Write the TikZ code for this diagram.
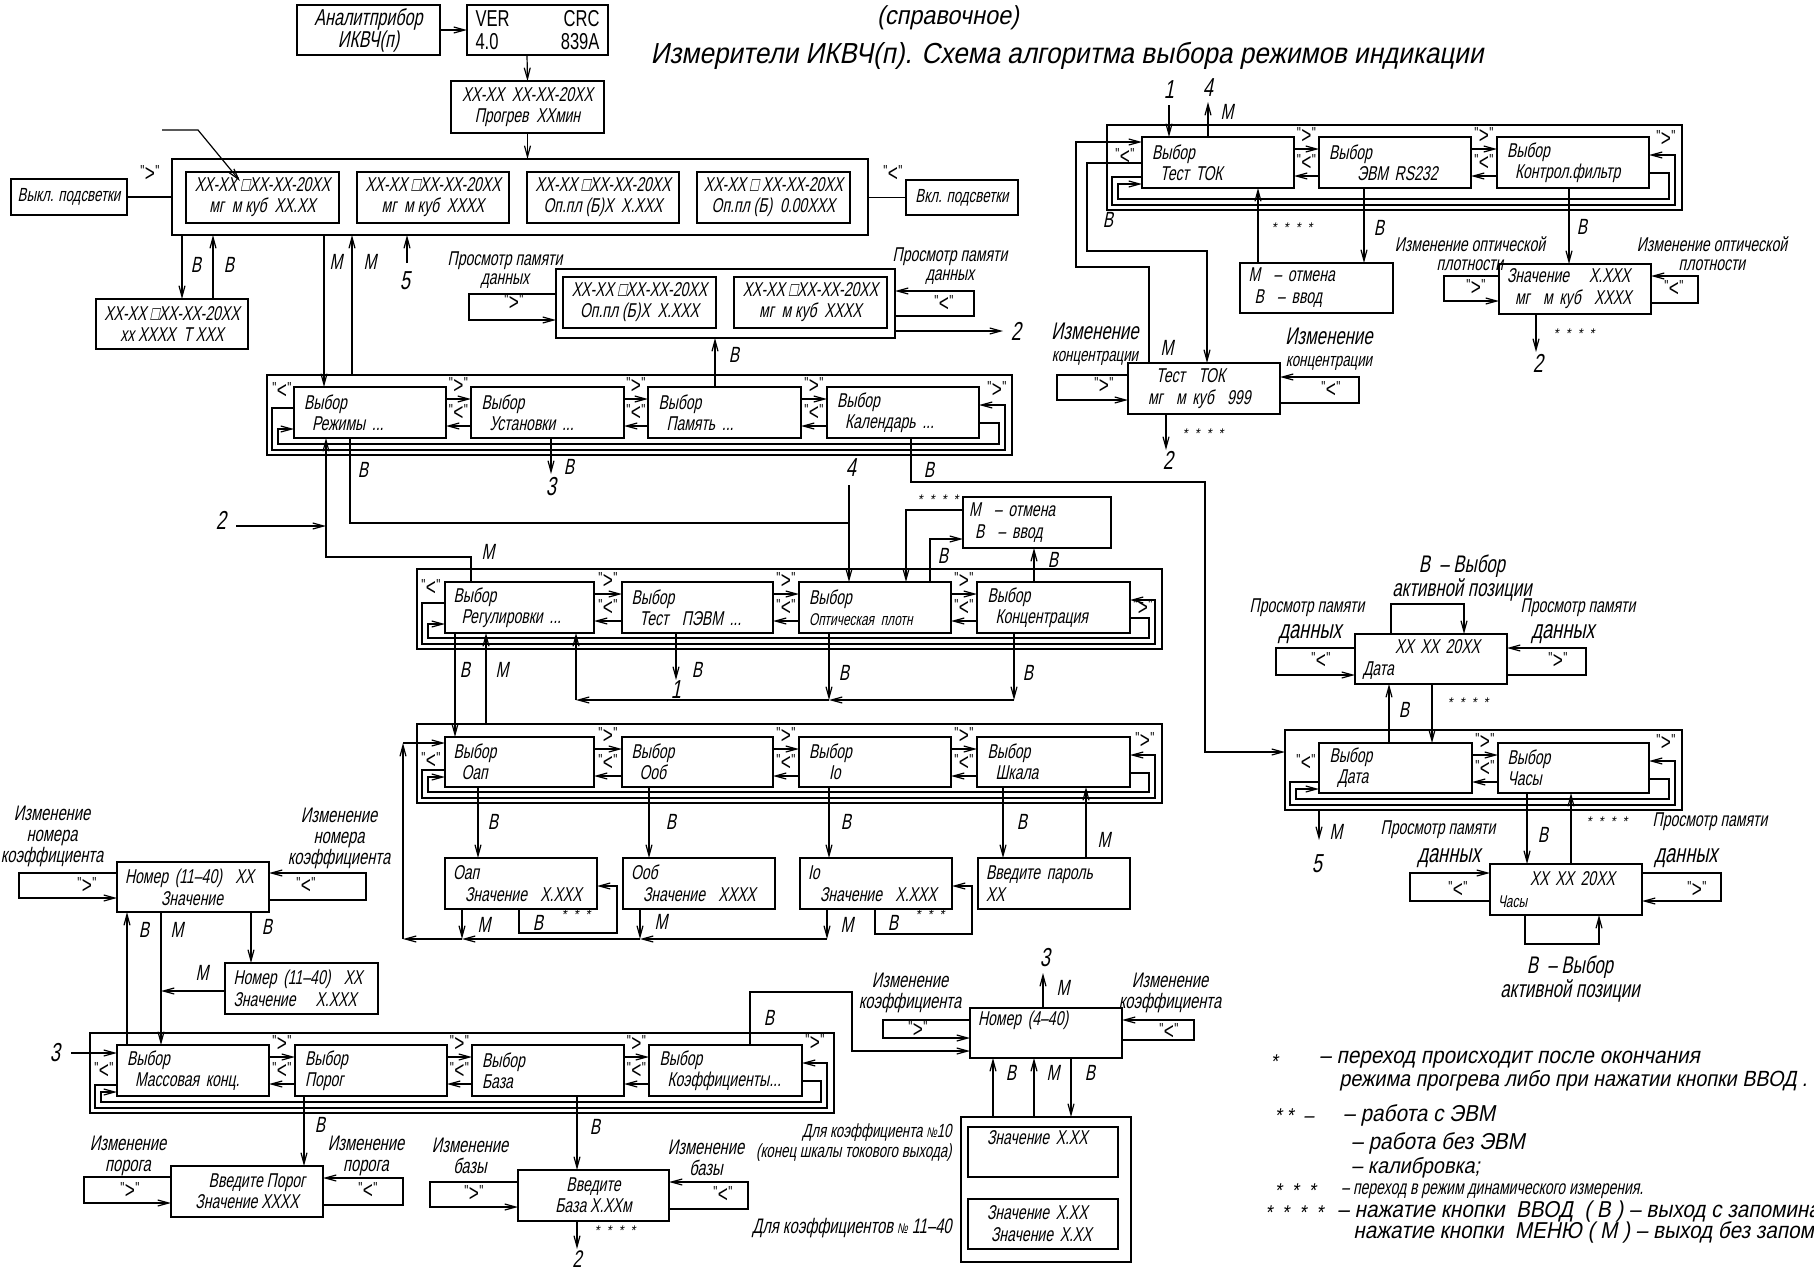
\documentclass[tikz,border=0pt]{standalone}
\usepackage{fontspec}
\setmainfont{Liberation Sans}[FakeSlant=0.2,FakeStretch=0.9]
\newfontfamily\nf{Liberation Sans}[FakeSlant=0.2,FakeStretch=0.7]
\newfontfamily\uf{Liberation Sans}[FakeStretch=0.72]
\usetikzlibrary{arrows.meta,calc}
\newcommand\fsz[2]{\fontsize{#1}{#2}\selectfont}
\newcommand\qmark[1]{{\uf\fsz{8}{8}"}\kern0.2pt\raisebox{-2.5pt}{\uf\fsz{12}{12}#1}\kern0.2pt{\uf\fsz{8}{8}"}}
\newcommand\mybox[7][]{\node[box,minimum width={(#5-#3)*0.5pt},minimum height={(#6-#4)*0.5pt},#1] (#2) at ({(#3+#5)/2},{(#4+#6)/2}) {#7};}
\newcommand\mylb[4][lt]{\node[#1] (#2) at (#3) {#4};}
\newcommand\pairar[3]{%
 \draw[ar] (#1.east |- 0,#3+12) -- (#2.west |- 0,#3+12);
 \draw[ar] (#2.west |- 0,#3+39) -- (#1.east |- 0,#3+39);
 \path (#1.north east) -- (#2.north west) node[midway,ql,yshift=1pt] (#1#2g) {\qmark{>}};
 \path (#1.east) -- (#2.west) node[midway,ql] (#1#2l) {\qmark{<}};}
\newcommand\rowloops[8]{%
 \draw[ar] (#2.east |- 0,#5+36) -| (#4-13,#6-11) -| (#3+11,#8) -- (#1.west |- 0,#8);
 \draw[ar] (#1.west |- 0,#7) -| (#3+5,#6-5) -| (#4-7,#5+18) -- (#2.east |- 0,#5+18);}
\tikzset{
 box/.style={draw,line width=0.75pt,inner sep=0pt,outer sep=0pt},
 ar/.style={line width=0.6pt,-{Straight Barb[length=5.5pt,width=3pt]}},
 ln/.style={line width=0.6pt},
 sel/.style={align=left,text width=66pt,font=\nf\fsz{10}{10.5}},
 dsp/.style={align=center,font=\nf\fsz{10}{10.5}},
 val/.style={align=left,text width=68pt,font=\nf\fsz{10}{11}},
 lt/.style={inner sep=0pt,font=\nf\fsz{11}{11}},
 num/.style={inner sep=0pt,font=\nf\fsz{13}{13}},
 ql/.style={inner sep=0pt},
 cpt/.style={inner sep=0pt,align=center,font=\nf\fsz{10}{9.5}},
 cpb/.style={inner sep=0pt,align=center,font=\nf\fsz{10.5}{10.5}},
 st/.style={inner sep=0pt,font=\fsz{7}{7}},
 lg/.style={inner sep=0pt,anchor=west,font=\fsz{11.5}{12}},
}
\begin{document}
\begin{tikzpicture}[x=0.5pt,y=-0.5pt]
\useasboundingbox (0,0) rectangle (1814,1270);
\fill[white] (0,0) rectangle (1814,1270);
% ================= all boxes
\mybox[dsp,font=\nf\fsz{11.5}{11}]{anal}{297}{5}{440}{55}{Аналитприбор\\ИКВЧ(п)}
\mybox[align=left,text width=62pt,font=\uf\fsz{11.5}{11.5}]{ver}{467}{5}{608}{55}{VER\hfill CRC\\4.0\hfill 839A}
\mybox[dsp]{prog}{451}{81}{604}{133}{XX-XX\ \ XX-XX-20XX\\Прогрев\ \ XXмин}
\mybox{big}{172}{159}{868}{235}{}
\mybox[dsp]{i1}{186}{172}{339}{223}{XX-XX □XX-XX-20XX\\мг\ \ м куб\ \ XX.XX}
\mybox[dsp]{i2}{357}{172}{509}{223}{XX-XX □XX-XX-20XX\\мг\ \ м куб\ \ XXXX}
\mybox[dsp]{i3}{527}{172}{679}{223}{XX-XX □XX-XX-20XX\\Оп.пл (Б)X\ \ X.XXX}
\mybox[dsp]{i4}{697}{172}{850}{223}{XX-XX □ XX-XX-20XX\\Оп.пл (Б)\ \ 0.00XXX}
\mybox[dsp,font=\nf\fsz{9.5}{10}]{vykl}{11}{179}{127}{215}{Выкл. подсветки}
\mybox[dsp,font=\nf\fsz{9.5}{10}]{vkl}{906}{180}{1018}{215}{Вкл. подсветки}
\mybox[dsp]{xx}{96}{299}{248}{349}{XX-XX □XX-XX-20XX\\xx XXXX\ \ T XXX}
\mybox{mem}{556}{269}{895}{338}{}
\mybox[dsp]{m1}{563}{277}{716}{328}{XX-XX □XX-XX-20XX\\Оп.пл (Б)X\ \ X.XXX}
\mybox[dsp]{m2}{734}{277}{887}{328}{XX-XX □XX-XX-20XX\\мг\ \ м куб\ \ XXXX}
% row 1
\mybox{r1}{267}{375}{1012}{455}{}
\mybox[sel]{ra}{294}{387}{446}{438}{Выбор\\\hspace*{4pt}Режимы ...}
\mybox[sel]{rb}{471}{387}{624}{438}{Выбор\\\hspace*{4pt}Установки ...}
\mybox[sel]{rc}{648}{387}{801}{438}{Выбор\\\hspace*{4pt}Память ...}
\mybox[sel]{rd}{827}{387}{979}{438}{Выбор\\\hspace*{4pt}Календарь ...}
% row 2
\mybox{r2}{417}{569}{1162}{649}{}
\mybox[sel]{sa}{445}{582}{594}{633}{Выбор\\\hspace*{4pt}Регулировки ...}
\mybox[sel]{sb}{622}{582}{773}{633}{Выбор\\\hspace*{4pt}Тест\ \ ПЭВМ ...}
\mybox[sel]{sc}{799}{582}{951}{633}{Выбор\\{\fsz{8.5}{10.5}Оптическая плотн}}
\mybox[sel]{sd}{977}{582}{1130}{633}{Выбор\\\hspace*{4pt}Концентрация}
\mybox[val]{otm1}{963}{497}{1111}{548}{М\ \ – отмена\\\hspace*{3pt}В\ \ – ввод}
% row 3
\mybox{r3}{417}{724}{1162}{803}{}
\mybox[sel]{ta}{445}{737}{594}{787}{Выбор\\\hspace*{4pt}Оап}
\mybox[sel]{tb}{622}{737}{773}{787}{Выбор\\\hspace*{4pt}Ооб}
\mybox[sel]{tc}{799}{737}{951}{787}{Выбор\\\hspace*{10pt}Io}
\mybox[sel]{td}{977}{737}{1130}{787}{Выбор\\\hspace*{4pt}Шкала}
\mybox[val]{va}{445}{858}{597}{909}{Оап\\\hspace*{6pt}Значение\ \ X.XXX}
\mybox[val]{vb}{623}{858}{775}{909}{Ооб\\\hspace*{6pt}Значение\ \ XXXX}
\mybox[val]{vc}{800}{858}{952}{909}{Io\\\hspace*{6pt}Значение\ \ X.XXX}
\mybox[val]{vd}{978}{858}{1130}{909}{Введите пароль\\XX}
% left
\mybox[val]{nom1}{117}{862}{269}{912}{Номер (11–40)\ \ XX\\\hspace*{18pt}Значение}
\mybox[val]{nom2}{225}{963}{378}{1014}{Номер (11–40)\ \ XX\\Значение\quad X.XXX}
% row 4
\mybox{r4}{90}{1033}{834}{1113}{}
\mybox[sel]{ua}{117}{1045}{269}{1096}{Выбор\\\hspace*{4pt}Массовая конц.}
\mybox[sel]{ub}{295}{1045}{447}{1096}{Выбор\\Порог}
\mybox[sel]{uc}{472}{1045}{624}{1096}{Выбор\\База}
\mybox[sel]{ud}{649}{1045}{802}{1096}{Выбор\\\hspace*{4pt}Коэффициенты...}
\mybox[dsp]{porog}{171}{1166}{323}{1217}{\hspace*{10pt}Введите Порог\\Значение XXXX}
\mybox[dsp]{baza}{518}{1170}{669}{1221}{Введите\\База X.XXм}
\mybox[val]{nom4}{970}{1008}{1122}{1058}{Номер (4–40)\\\strut}
\mybox{valbox}{961}{1117}{1131}{1262}{}
\mybox[val]{vz1}{968}{1127}{1118}{1177}{\hspace*{6pt}Значение X.XX\\\strut}
\mybox[val]{vz2}{968}{1199}{1118}{1249}{\hspace*{6pt}Значение X.XX\\\hspace*{8pt}Значение X.XX}
% row 5
\mybox{r5}{1107}{125}{1682}{210}{}
\mybox[sel]{fa}{1142}{137}{1294}{188}{Выбор\\\hspace*{4pt}Тест ТОК}
\mybox[sel]{fb}{1319}{137}{1471}{188}{Выбор\\\hspace*{14pt}ЭВМ RS232}
\mybox[sel]{fc}{1497}{137}{1649}{188}{Выбор\\\hspace*{4pt}Контрол.фильтр}
\mybox[val]{tok}{1128}{363}{1280}{414}{\hspace*{10pt}Тест\ \ ТОК\\\hspace*{6pt}мг\ \ м куб\ \ 999}
\mybox[val]{otm2}{1240}{263}{1393}{313}{М\ \ – отмена\\\hspace*{3pt}В\ \ – ввод}
\mybox[val]{znach}{1499}{264}{1651}{314}{Значение\quad X.XXX\\\hspace*{4pt}мг\ \ м куб\ \ XXXX}
% calendar
\mybox{r6}{1285}{730}{1682}{810}{}
\mybox[sel]{ga}{1319}{743}{1472}{793}{Выбор\\\hspace*{4pt}Дата}
\mybox[sel]{gb}{1498}{743}{1649}{793}{Выбор\\Часы}
\mybox[val]{data}{1355}{634}{1507}{684}{\hspace*{16pt}XX XX 20XX\\Дата}
\mybox[val]{chasy}{1490}{864}{1642}{915}{\hspace*{16pt}XX XX 20XX\\{\fsz{8.5}{11}Часы}}
% ================= title
\mylb[font=\fsz{13}{13},inner sep=0pt]{t1}{948,18}{(справочное)}
\mylb[font=\fsz{14.5}{15},inner sep=0pt]{t2}{1067,56}{Измерители ИКВЧ(п). Схема алгоритма выбора режимов индикации}
% ================= top connectors
\draw[ar] (anal.east) -- (ver.west);
\draw[ar] (527,0 |- ver.south) -- (prog.north);
\draw[ar] (prog.south) -- (prog.south |- big.north);
\coordinate (ptr) at (162,130); \coordinate (sq) at (240,181);
\draw[ar] (ptr) -- (198,130) -- (sq);
\draw[ln] (vykl.east) -- (vykl.east -| big.west);
\draw[ln] (vkl.west -| big.east) -- (vkl.west);
\mylb[ql]{q1}{150,173}{\qmark{>}}
\mylb[ql]{q2}{893,173}{\qmark{<}}
\draw[ar] (182,0 |- big.south) -- (182,0 |- xx.north);
\draw[ar] (213,0 |- xx.north) -- (213,0 |- big.south);
\mylb{l1}{196,265}{В} \mylb{l2}{229,265}{В}
\draw[ar] (324,0 |- big.south) -- (324,0 |- ra.north);
\draw[ar] (352,0 |- r1.north) -- (352,0 |- big.south);
\mylb{l3}{336,262}{М} \mylb{l4}{370,262}{М}
\coordinate (c5) at (407,263);
\draw[ar] (c5) -- (c5 |- big.south);
\mylb[num]{n5}{405,281}{5}
\draw[ar] (mem.west |- 0,294) -- (469,294) -- (469,320) -- (mem.west |- 0,320);
\draw[ar] (mem.east |- 0,316) -- (974,316) -- (974,291) -- (mem.east |- 0,291);
\mylb[ql]{q3}{514,302}{\qmark{>}}
\mylb[ql]{q4}{944,303}{\qmark{<}}
\mylb[cpt]{p1}{505,270}{Просмотр памяти\\данных}
\mylb[cpt]{p2}{950,266}{Просмотр памяти\\данных}
\coordinate (c2a) at (1003,331);
\draw[ar] (mem.east |- c2a) -- (c2a);
\mylb[num]{n2a}{1016,331}{2}
% ================= row 1 connectors
\pairar{ra}{rb}{387}\pairar{rb}{rc}{387}\pairar{rc}{rd}{387}
\rowloops{ra}{rd}{267}{1012}{387}{455}{408}{429}
\mylb[ql]{q5}{282,390}{\qmark{<}}
\mylb[ql]{q6}{997,389}{\qmark{>}}
\draw[ar] (715,0 |- rc.north) -- (715,0 |- mem.south);
\mylb{l5}{734,355}{В}
\coordinate (c2b) at (236,526);
\draw[ar] (c2b) -- (326,526);
\mylb[num]{n2b}{221,520}{2}
\draw[ar] (471,0 |- sa.north) -- (471,557) -- (326,557) -- (326,0 |- ra.south);
\mylb{l6}{488,552}{М}
\draw[ar] (350,0 |- ra.south) -- (350,523) -- (849,523) -- (849,0 |- sc.north);
\mylb{l7}{363,470}{В}
\coordinate (c4) at (849,485);
\draw[ln] (c4) -- (849,523);
\mylb[num]{n4}{851,468}{4}
\draw[ar] (551,0 |- rb.south) -- (551,474);
\mylb[num]{n3}{551,487}{3}
\mylb{l8}{569,467}{В}
\draw[ar] (911,0 |- rd.south) -- (911,482) -- (1205,482) -- (1205,752) -- (r6.west |- 0,752);
\mylb{l9}{929,470}{В}
% ================= row 2 connectors
\pairar{sa}{sb}{582}\pairar{sb}{sc}{582}\pairar{sc}{sd}{582}
\rowloops{sa}{sd}{417}{1162}{582}{649}{603}{624}
\mylb[ql]{q7}{431,587}{\qmark{<}}
\mylb[ql]{q8}{1143,607}{\qmark{>}}
\draw[ar] (otm1.west |- 0,510) -- (906,510) -- (906,0 |- sc.north);
\mylb[st]{s1}{938,500}{*\ \ *\ \ *\ \ *}
\draw[ar] (930,0 |- sc.north) -- (930,539) -- (otm1.west |- 0,539);
\mylb{l10}{943,556}{В}
\draw[ar] (1034,0 |- sd.north) -- (1034,0 |- otm1.south);
\mylb{l11}{1053,560}{В}
\draw[ar] (455,0 |- sa.south) -- (455,0 |- ta.north);
\draw[ar] (486,0 |- r3.north) -- (486,0 |- sa.south);
\mylb{l12}{465,670}{В} \mylb{l13}{502,670}{М}
\draw[ar] (676,0 |- sb.south) -- (676,680);
\mylb[num]{n1}{676,690}{1}
\mylb{l14}{697,670}{В}
\draw[ar] (829,0 |- sc.south) -- (829,700);
\draw[ar] (1014,0 |- sd.south) -- (1014,700);
\draw[ar] (1014,700) -- (829,700);
\draw[ar] (829,700) -- (576,700);
\draw[ar] (576,700) -- (576,0 |- sa.south);
\mylb{l15}{844,673}{В} \mylb{l16}{1028,673}{В}
% ================= row 3 connectors
\pairar{ta}{tb}{737}\pairar{tb}{tc}{737}\pairar{tc}{td}{737}
\rowloops{ta}{td}{417}{1162}{737}{803}{770}{777}
\mylb[ql]{q9}{431,760}{\qmark{<}}
\mylb[ql]{q10}{1145,740}{\qmark{>}}
\draw[ar] (478,0 |- ta.south) -- (478,0 |- va.north);
\draw[ar] (649,0 |- tb.south) -- (649,0 |- vb.north);
\draw[ar] (829,0 |- tc.south) -- (829,0 |- vc.north);
\draw[ar] (1003,0 |- td.south) -- (1003,0 |- vd.north);
\mylb{l17}{493,822}{В} \mylb{l18}{671,822}{В} \mylb{l19}{846,822}{В} \mylb{l20}{1022,822}{В}
\draw[ar] (1086,0 |- vd.north) -- (1086,0 |- td.south);
\mylb{l21}{1104,840}{М}
\draw[ar] (827,0 |- vc.south) -- (827,939);
\draw[ar] (827,939) -- (640,939);
\draw[ar] (640,0 |- vb.south) -- (640,939);
\draw[ar] (640,939) -- (462,939);
\draw[ar] (462,0 |- va.south) -- (462,939);
\draw[ar] (462,939) -- (403,939);
\draw[ar] (403,939) -- (403,743);
\draw[ar] (403,743) -- (ta.west |- 0,743);
\mylb{l22}{484,925}{М} \mylb{l23}{661,922}{М} \mylb{l24}{847,925}{М}
\draw[ar] (519,0 |- va.south) -- (519,933) -- (617,933) -- (617,886) -- (va.east |- 0,886);
\draw[ar] (875,0 |- vc.south) -- (875,934) -- (972,934) -- (972,886) -- (vc.east |- 0,886);
\mylb{l25}{538,923}{В} \mylb[st]{s2}{576,915}{*\ \ *\ \ *}
\mylb{l26}{893,923}{В} \mylb[st]{s3}{930,915}{*\ \ *\ \ *}
% ================= left connectors
\draw[ar] (nom1.west |- 0,873) -- (19,873) -- (19,898) -- (nom1.west |- 0,898);
\draw[ar] (nom1.east |- 0,900) -- (366,900) -- (366,873) -- (nom1.east |- 0,873);
\mylb[ql]{q11}{87,885}{\qmark{>}}
\mylb[ql]{q12}{306,885}{\qmark{<}}
\mylb[cpb]{k1}{52,836}{Изменение\\номера\\коэффициента}
\mylb[cpb]{k2}{339,838}{Изменение\\номера\\коэффициента}
\draw[ar] (127,0 |- ua.north) -- (127,0 |- nom1.south);
\draw[ar] (161,0 |- nom1.south) -- (161,0 |- ua.north);
\draw[ar] (251,0 |- nom1.south) -- (251,0 |- nom2.north);
\draw[ar] (nom2.west |- 0,991) -- (161,991);
\mylb{l27}{144,930}{В} \mylb{l28}{177,930}{М} \mylb{l29}{267,927}{В} \mylb{l30}{202,973}{М}
% ================= row 4 connectors
\pairar{ua}{ub}{1045}\pairar{ub}{uc}{1045}\pairar{uc}{ud}{1045}
\rowloops{ua}{ud}{90}{834}{1045}{1113}{1085}{1092}
\mylb[ql]{q13}{104,1070}{\qmark{<}}
\mylb[ql]{q14}{815,1042}{\qmark{>}}
\coordinate (c3a) at (71,1053);
\draw[ar] (c3a) -- (ua.west |- c3a);
\mylb[num]{n3a}{55,1053}{3}
\draw[ar] (304,0 |- ub.south) -- (304,0 |- porog.north);
\mylb{l31}{320,1125}{В}
\draw[ar] (577,0 |- uc.south) -- (577,0 |- baza.north);
\mylb{l32}{595,1127}{В}
\draw[ar] (porog.west |- 0,1177) -- (84,1177) -- (84,1203) -- (porog.west |- 0,1203);
\draw[ar] (porog.east |- 0,1205) -- (403,1205) -- (403,1178) -- (porog.east |- 0,1178);
\mylb[ql]{q15}{130,1190}{\qmark{>}}
\mylb[ql]{q16}{368,1190}{\qmark{<}}
\mylb[cpb]{k3}{128,1156}{Изменение\\порога}
\mylb[cpb]{k4}{366,1156}{Изменение\\порога}
\draw[ar] (baza.west |- 0,1182) -- (430,1182) -- (430,1207) -- (baza.west |- 0,1207);
\draw[ar] (baza.east |- 0,1209) -- (748,1209) -- (748,1182) -- (baza.east |- 0,1182);
\mylb[ql]{q17}{474,1193}{\qmark{>}}
\mylb[ql]{q18}{723,1194}{\qmark{<}}
\mylb[cpb]{k5}{470,1156}{Изменение\\базы}
\mylb[cpb]{k6}{706,1158}{Изменение\\базы}
\draw[ar] (577,0 |- baza.south) -- (577,1249);
\mylb[num,font=\nf\fsz{12}{12}]{n2c}{577,1259}{2}
\mylb[st]{s4}{615,1231}{*\ \ *\ \ *\ \ *}
% ================= Номер 4-40 connectors
\draw[ar] (750,0 |- ud.north) -- (750,992) -- (852,992) -- (852,1051) -- (nom4.west |- 0,1051);
\mylb{l33}{769,1018}{В}
\coordinate (c3b) at (1043,973);
\draw[ar] (c3b |- nom4.north) -- (c3b);
\mylb[num]{n3b}{1045,958}{3}
\mylb{l34}{1063,988}{М}
\draw[ar] (nom4.west |- 0,1020) -- (883,1020) -- (883,1038) -- (nom4.west |- 0,1038);
\draw[ar] (nom4.east |- 0,1040) -- (1194,1040) -- (1194,1020) -- (nom4.east |- 0,1020);
\mylb[ql]{q19}{918,1029}{\qmark{>}}
\mylb[ql]{q20}{1169,1031}{\qmark{<}}
\mylb[cpb]{k7}{910,993}{Изменение\\коэффициента}
\mylb[cpb]{k8}{1170,993}{Изменение\\коэффициента}
\draw[ar] (993,0 |- valbox.north) -- (993,0 |- nom4.south);
\draw[ar] (1034,0 |- valbox.north) -- (1034,0 |- nom4.south);
\draw[ar] (1071,0 |- nom4.south) -- (1071,0 |- valbox.north);
\mylb{l35}{1011,1073}{В} \mylb{l36}{1053,1073}{М} \mylb{l37}{1090,1073}{В}
\mylb[inner sep=0pt,anchor=east,align=right,font=\nf\fsz{9.5}{10}]{d1}{952,1143}{Для коэффициента {\fsz{7}{7}№}10\\(конец шкалы токового выхода)}
\mylb[inner sep=0pt,anchor=east,font=\nf\fsz{10.5}{10}]{d2}{952,1228}{Для коэффициентов {\fsz{7}{7}№} 11–40}
% ================= row 5 connectors
\pairar{fa}{fb}{137}\pairar{fb}{fc}{137}
\rowloops{fa}{fc}{1107}{1682}{137}{210}{177}{184}
\mylb[ql]{q21}{1125,156}{\qmark{<}}
\mylb[ql]{q22}{1666,138}{\qmark{>}}
\coordinate (c1) at (1169,105);
\draw[ar] (c1) -- (c1 |- fa.north);
\mylb[num]{n1b}{1169,90}{1}
\coordinate (c4b) at (1208,102);
\draw[ar] (c4b |- fa.north) -- (c4b);
\mylb[num]{n4b}{1208,88}{4}
\mylb{l38}{1227,112}{М}
\draw[ar] (1149,0 |- tok.north) -- (1149,267) -- (1076,267) -- (1076,142) -- (fa.west |- 0,142);
\draw[ar] (fa.west |- 0,163) -- (1087,163) -- (1087,251) -- (1207,251) -- (1207,0 |- tok.north);
\mylb{l39}{1108,220}{В}
\mylb{l40}{1167,348}{М}
\draw[ar] (tok.west |- 0,375) -- (1057,375) -- (1057,400) -- (tok.west |- 0,400);
\draw[ar] (tok.east |- 0,403) -- (1359,403) -- (1359,377) -- (tok.east |- 0,377);
\mylb[ql]{q23}{1104,385}{\qmark{>}}
\mylb[ql]{q24}{1331,389}{\qmark{<}}
\mylb[cpb,font=\nf\fsz{12}{11}]{k9}{1095,344}{Изменение\\{\fsz{9.5}{9}концентрации}}
\mylb[cpb,font=\nf\fsz{12}{11}]{k10}{1329,349}{Изменение\\{\fsz{9.5}{9}концентрации}}
\draw[ar] (1166,0 |- tok.south) -- (1166,450);
\mylb[num]{n2d}{1168,460}{2}
\mylb[st]{s5}{1203,434}{*\ \ *\ \ *\ \ *}
\draw[ar] (1364,0 |- fb.south) -- (1364,0 |- otm2.north);
\mylb{l41}{1379,228}{В}
\draw[ar] (1258,0 |- otm2.north) -- (1258,0 |- fa.south);
\mylb[st]{s6}{1292,228}{*\ \ *\ \ *\ \ *}
\draw[ar] (1569,0 |- fc.south) -- (1569,0 |- znach.north);
\mylb{l42}{1582,227}{В}
\draw[ar] (znach.west |- 0,276) -- (1444,276) -- (1444,301) -- (znach.west |- 0,301);
\draw[ar] (znach.east |- 0,303) -- (1698,303) -- (1698,276) -- (znach.east |- 0,276);
\mylb[ql]{q25}{1476,287}{\qmark{>}}
\mylb[ql]{q26}{1674,288}{\qmark{<}}
\mylb[cpt]{k11}{1470,254}{Изменение оптической\\плотности}
\mylb[cpt]{k12}{1712,254}{Изменение оптической\\плотности}
\draw[ar] (1536,0 |- znach.south) -- (1536,352);
\mylb[num]{n2e}{1538,363}{2}
\mylb[st]{s7}{1574,334}{*\ \ *\ \ *\ \ *}
% ================= calendar connectors
\pairar{ga}{gb}{743}
\rowloops{ga}{gb}{1285}{1682}{743}{810}{782}{789}
\mylb[ql]{q27}{1306,762}{\qmark{<}}
\mylb[ql]{q28}{1666,742}{\qmark{>}}
\draw[ar] (data.west |- 0,648) -- (1276,648) -- (1276,675) -- (data.west |- 0,675);
\draw[ar] (data.east |- 0,675) -- (1586,675) -- (1586,648) -- (data.east |- 0,648);
\mylb[ql]{q29}{1321,660}{\qmark{<}}
\mylb[ql]{q30}{1558,660}{\qmark{>}}
\draw[ar] (1391,0 |- data.north) -- (1391,604) -- (1464,604) -- (1464,0 |- data.north);
\mylb[cpb,font=\nf\fsz{12}{10.5}]{k13}{1462,578}{В\ \ – Выбор\\активной позиции}
\mylb[cpt]{p3}{1307,608}{Просмотр памяти}
\mylb[cpt,font=\nf\fsz{13}{13}]{p4}{1310,634}{данных}
\mylb[cpt]{p5}{1578,608}{Просмотр памяти}
\mylb[cpt,font=\nf\fsz{13}{13}]{p6}{1563,634}{данных}
\draw[ar] (1389,0 |- ga.north) -- (1389,0 |- data.south);
\draw[ar] (1432,0 |- data.south) -- (1432,0 |- ga.north);
\mylb{l43}{1404,710}{В}
\mylb[st]{s8}{1468,703}{*\ \ *\ \ *\ \ *}
\draw[ar] (1319,0 |- r6.south) -- (1319,840);
\mylb{l44}{1336,832}{М}
\mylb[num]{n5b}{1317,864}{5}
\draw[ar] (1527,0 |- gb.south) -- (1527,0 |- chasy.north);
\draw[ar] (1571,0 |- chasy.north) -- (1571,0 |- gb.south);
\mylb{l45}{1543,835}{В}
\mylb[st]{s9}{1607,822}{*\ \ *\ \ *\ \ *}
\mylb[cpt]{p7}{1438,830}{Просмотр памяти}
\mylb[cpt,font=\nf\fsz{13}{13}]{p8}{1449,858}{данных}
\mylb[cpt]{p9}{1710,822}{Просмотр памяти}
\mylb[cpt,font=\nf\fsz{13}{13}]{p10}{1686,858}{данных}
\draw[ar] (chasy.west |- 0,901) -- (1410,901) -- (1410,873) -- (chasy.west |- 0,873);
\draw[ar] (chasy.east |- 0,873) -- (1721,873) -- (1721,901) -- (chasy.east |- 0,901);
\mylb[ql]{q31}{1458,889}{\qmark{<}}
\mylb[ql]{q32}{1697,889}{\qmark{>}}
\draw[ar] (1525,0 |- chasy.south) -- (1525,944) -- (1599,944) -- (1599,0 |- chasy.south);
\mylb[cpb,font=\nf\fsz{12}{10.5}]{k14}{1570,979}{В\ \ – Выбор\\активной позиции}
% ================= legend
\mylb[st,font=\fsz{10}{10}]{g0}{1274,1062}{*}
\mylb[lg]{g1}{1319,1060}{– переход происходит после окончания}
\mylb[lg,font=\fsz{11}{12}]{g2}{1339,1081}{режима прогрева либо при нажатии кнопки ВВОД .}
\mylb[st,font=\fsz{10}{10}]{g3}{1294,1116}{*\ *\ \ –}
\mylb[lg]{g4}{1343,1115}{– работа с ЭВМ}
\mylb[lg]{g5}{1351,1143}{– работа без ЭВМ}
\mylb[lg,font=\fsz{11}{11}]{g6}{1351,1168}{– калибровка;}
\mylb[st,font=\fsz{10}{10}]{g7}{1295,1191}{*\ \ *\ \ *}
\mylb[lg,font=\nf\fsz{10}{10}]{g8}{1341,1191}{– переход в режим динамического измерения.}
\mylb[st,font=\fsz{10}{10}]{g9}{1294,1213}{*\ \ *\ \ *\ \ *}
\mylb[lg]{g10}{1337,1212}{– нажатие кнопки\ \ ВВОД\ \ ( В ) – выход с запоминанием}
\mylb[lg]{g11}{1353,1232}{нажатие кнопки\ \ МЕНЮ ( М ) – выход без запоминания}
\end{tikzpicture}
\end{document}
